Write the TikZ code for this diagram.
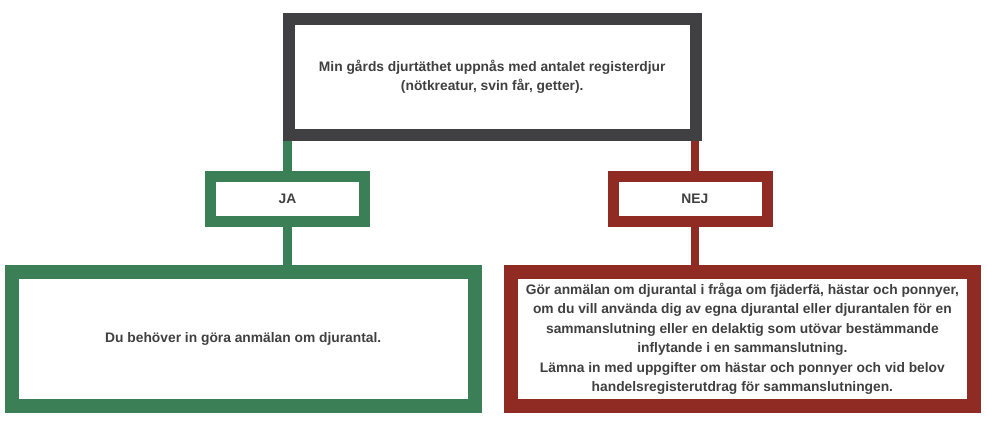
\documentclass[tikz,border=0pt]{standalone}
\usepackage{fontspec}
\setmainfont{Liberation Sans}
\usetikzlibrary{backgrounds}
\definecolor{boxgray}{HTML}{404042}
\definecolor{boxgreen}{HTML}{3B7F57}
\definecolor{boxred}{HTML}{8F2B22}
\definecolor{txt}{HTML}{404040}
\tikzset{
  box/.style={draw, fill=white, rectangle, inner sep=0pt, align=center,
    text=txt, font=\bfseries\fontsize{13.8}{19.5}\selectfont},
  topbox/.style={box, draw=boxgray, line width=12pt, minimum width=406.5pt, minimum height=116.5pt},
  smallbox/.style={box, line width=11pt, minimum width=154pt, minimum height=45pt},
  bigbox/.style={box, line width=13.5pt, minimum width=463pt, minimum height=134pt},
  conn/.style={line width=9pt}
}
\begin{document}
\begin{tikzpicture}[x=1pt,y=-1pt]
\useasboundingbox (0,0) rectangle (988,426);
\node[topbox] (top) at (492.25,77) {Min gårds djurtäthet uppnås med antalet registerdjur\\(nötkreatur, svin får, getter).};
\node[smallbox, draw=boxgreen] (ja) at (287.5,199) {JA};
\node[smallbox, draw=boxred] (nej) at (690.3,199) {\hspace*{9pt}NEJ};
\node[bigbox, draw=boxgreen] (jares) at (243.25,338.75) {Du behöver in göra anmälan om djurantal.};
\node[bigbox, draw=boxred] (nejres) at (742.4,338.75) {Gör anmälan om djurantal i fråga om fjäderfä, hästar och ponnyer,\\om du vill använda dig av egna djurantal eller djurantalen för en\\sammanslutning eller en delaktig som utövar bestämmande\\inflytande i en sammanslutning.\\Lämna in med uppgifter om hästar och ponnyer och vid belov\\handelsregisterutdrag för sammanslutningen.};
\coordinate (nejx) at (695,199);
\begin{pgfonlayer}{background}
\draw[conn, boxgreen] (top.south -| ja.north) -- (ja.north);
\draw[conn, boxgreen] (ja.south) -- (ja.south |- jares.north);
\draw[conn, boxred, line width=8.5pt] (top.south -| nejx) -- (nej.north -| nejx);
\draw[conn, boxred, line width=8.5pt] (nej.south -| nejx) -- (nejres.north -| nejx);
\end{pgfonlayer}
\end{tikzpicture}
\end{document}
